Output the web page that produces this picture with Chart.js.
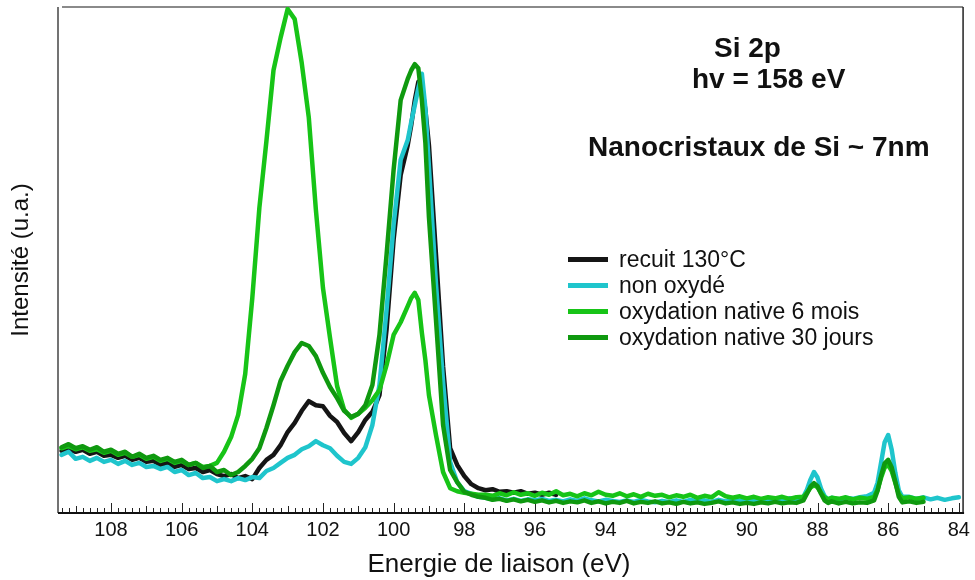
<!DOCTYPE html>
<html lang="fr">
<head>
<meta charset="UTF-8">
<title>Si 2p - Nanocristaux de Si</title>
<script src="https://cdn.jsdelivr.net/npm/chart.js"></script>
<style>
  body { margin: 0; background: #fff; font-family: "Liberation Sans", Arial, sans-serif; color: #111; }
  #wrap { position: relative; width: 975px; height: 580px; }
  #wrap canvas { position: absolute; left: 0; top: 0; }
  .note { position: absolute; font-weight: bold; font-size: 28px; line-height: 28px; white-space: nowrap; }
  .leg { position: absolute; left: 568px; height: 26px; padding-left: 51px; font-size: 23px; line-height: 26px; white-space: nowrap; }
  .leg span { position: absolute; left: 0; top: 11px; width: 40px; height: 5px; }
  #xtitle { position: absolute; left: 299px; width: 400px; top: 548px; text-align: center; font-size: 26px; line-height: 30px; }
</style>
</head>
<body>
<div id="wrap">
  <canvas id="spectre" width="975" height="580"></canvas>
  <div class="note" style="left:714px; top:34px;">Si 2p</div>
  <div class="note" style="left:692px; top:65px;">hv = 158 eV</div>
  <div class="note" style="left:588px; top:133px;">Nanocristaux de Si ~ 7nm</div>
  <div id="legend"></div>
  <div id="xtitle">Energie de liaison (eV)</div>
</div>
<script>
    // energy grid (eV), shared by every spectrum
    const energy = [
        109.4, 109.2, 109.0, 108.8, 108.6, 108.4, 108.2, 108.0, 107.8, 107.6,
        107.4, 107.2, 107.0, 106.8, 106.6, 106.4, 106.2, 106.0, 105.8, 105.6,
        105.4, 105.2, 105.0, 104.8, 104.6, 104.4, 104.2, 104.0, 103.8, 103.6,
        103.4, 103.2, 103.0, 102.8, 102.6, 102.4, 102.2, 102.0, 101.8, 101.6,
        101.4, 101.2, 101.0, 100.8, 100.6, 100.4, 100.2, 100.0, 99.8, 99.6,
        99.5, 99.4, 99.3, 99.2, 99.1, 99.0, 98.8, 98.6, 98.4, 98.2,
        98.0, 97.8, 97.6, 97.4, 97.2, 97.0, 96.8, 96.6, 96.4, 96.2,
        96.0, 95.8, 95.6, 95.4, 95.2, 95.0, 94.8, 94.6, 94.4, 94.2,
        94.0, 93.8, 93.6, 93.4, 93.2, 93.0, 92.8, 92.6, 92.4, 92.2,
        92.0, 91.8, 91.6, 91.4, 91.2, 91.0, 90.8, 90.6, 90.4, 90.2,
        90.0, 89.8, 89.6, 89.4, 89.2, 89.0, 88.8, 88.6, 88.4, 88.3,
        88.2, 88.1, 88.0, 87.9, 87.8, 87.7, 87.6, 87.4, 87.2, 87.0,
        86.8, 86.6, 86.4, 86.3, 86.2, 86.1, 86.0, 85.9, 85.8, 85.7,
        85.6, 85.4, 85.2, 85.0, 84.8, 84.6, 84.4, 84.2, 84.0
    ];

    const recuit = [
        12.3, 12.6, 12.1, 12.5, 11.7, 12.1, 11.3, 11.5, 10.9, 11.3,
        10.5, 10.9, 10.1, 10.3, 9.5, 9.9, 9.1, 9.5, 8.7, 8.9,
        8.1, 8.5, 7.7, 7.3, 7.7, 6.9, 7.3, 6.7, 8.9, 10.5,
        11.5, 13.4, 16.0, 17.8, 20.2, 22.1, 21.3, 21.1, 19.2, 18.0,
        15.8, 14.2, 16.0, 18.4, 20.0, 23.3, 36.2, 54.0, 66.8, 72.7,
        76.7, 81.6, 85.2, 84.4, 79.6, 72.7, 51.0, 29.0, 12.8, 9.5,
        7.3, 5.7, 4.9, 4.5, 4.7, 4.2, 4.3, 4.0, 4.3, 3.8,
        4.0, 3.6, 4.0, 3.6, null, null, null, null, null, null,
        null, null, null, null, null, null, null, null, null, null,
        null, null, null, null, null, null, null, null, null, null,
        null, null, null, null, null, null, null, null, null, null,
        null, null, null, null, null, null, null, null, null, null,
        null, null, null, null, null, null, null, null, null, null,
        null, null, null, null, null, null, null, null, null
    ];

    const nonOxyde = [
        11.5, 12.1, 10.7, 11.1, 10.3, 10.9, 10.1, 10.5, 9.7, 10.3,
        9.5, 9.9, 9.1, 9.3, 8.7, 9.1, 8.1, 8.5, 7.5, 7.9,
        6.9, 7.1, 6.3, 6.7, 6.3, 6.9, 6.5, 7.1, 6.9, 8.3,
        8.9, 9.9, 10.9, 11.5, 12.6, 13.2, 14.2, 13.4, 12.8, 11.3,
        10.1, 9.7, 10.9, 13.0, 17.4, 25.3, 40.1, 56.9, 69.8, 73.7,
        77.3, 80.6, 84.0, 86.8, 80.0, 68.4, 45.3, 25.9, 10.1, 6.1,
        4.3, 3.8, 3.2, 3.0, 2.7, 2.9, 2.5, 2.8, 2.4, 2.7,
        2.5, 2.8, 2.4, 2.6, 2.3, 2.7, 2.4, 2.9, 2.5, 2.3,
        2.6, 2.4, 2.2, 2.5, 2.2, 2.6, 2.3, 2.1, 2.4, 2.2,
        2.5, 2.2, 2.6, 2.3, 2.5, 2.2, 2.6, 2.3, 2.5, 2.4,
        2.6, 2.3, 2.7, 2.5, 2.8, 2.6, 2.9, 2.7, 3.2, 4.6,
        6.6, 8.1, 7.0, 4.8, 3.3, 2.7, 3.0, 2.7, 3.0, 2.8,
        3.1, 3.3, 4.0, 6.0, 10.0, 14.0, 15.4, 12.5, 8.0, 4.5,
        3.2, 3.2, 2.8, 3.1, 2.7, 3.0, 2.6, 2.9, 3.1
    ];

    const native6Mois = [
        12.8, 13.2, 12.6, 13.0, 12.3, 12.6, 11.9, 12.3, 11.5, 11.9,
        11.1, 11.5, 10.7, 11.1, 10.3, 10.7, 9.9, 10.3, 9.5, 9.9,
        9.1, 9.3, 9.9, 12.1, 15.0, 19.4, 27.5, 42.5, 60.3, 73.5,
        87.5, 93.9, 99.6, 97.6, 88.9, 78.1, 59.9, 44.5, 34.6, 25.1,
        20.4, 18.8, 19.6, 20.8, 22.3, 24.3, 29.2, 35.2, 37.7, 40.9,
        42.5, 43.5, 42.1, 35.6, 30.2, 23.3, 15.4, 8.1, 4.9, 4.3,
        4.0, 3.8, 3.6, 3.6, 3.4, 3.9, 3.5, 4.1, 3.6, 3.9,
        3.4, 4.0, 3.6, 4.3, 3.5, 3.8, 3.3, 3.9, 3.5, 4.2,
        3.6, 3.4, 3.9, 3.3, 3.7, 3.2, 3.8, 3.4, 3.6, 3.1,
        3.5, 3.2, 3.6, 3.0, 3.4, 3.1, 4.1, 3.3, 3.0, 3.3,
        2.9, 3.2, 2.8, 3.1, 2.9, 3.2, 2.8, 3.1, 3.2, 4.0,
        5.0, 5.5, 5.1, 4.0, 3.1, 2.7, 3.0, 2.8, 3.1, 2.7,
        3.0, 2.8, 3.2, 4.6, 7.0, 9.0, 9.5, 8.3, 6.0, 3.8,
        2.9, 3.1, 2.8, 3.0, null, null, null, null, null
    ];

    const native30Jours = [
        13.0, 13.6, 12.8, 13.2, 12.5, 13.0, 12.1, 12.5, 11.7, 12.1,
        11.1, 11.7, 10.9, 11.3, 10.5, 10.9, 10.1, 10.5, 9.5, 9.9,
        8.9, 9.3, 8.1, 8.5, 7.5, 8.1, 9.3, 10.7, 12.8, 16.8,
        21.3, 26.1, 29.1, 31.8, 33.6, 33.0, 31.0, 27.7, 24.9, 22.7,
        20.2, 19.0, 19.6, 21.3, 25.3, 35.2, 51.0, 67.8, 81.6, 85.8,
        87.5, 88.7, 87.9, 81.6, 73.1, 58.5, 38.1, 17.4, 8.5, 6.1,
        4.2, 3.6, 3.2, 3.0, 2.6, 2.8, 2.4, 2.7, 2.3, 2.6,
        2.2, 2.5, 2.1, 2.4, 2.0, 2.3, 2.1, 2.5, 2.0, 2.3,
        1.9, 2.2, 2.0, 2.4, 1.9, 2.2, 2.0, 2.3, 1.9, 2.1,
        1.8, 2.2, 1.9, 2.1, 1.8, 2.0, 2.3, 1.9, 2.1, 1.8,
        2.0, 1.8, 2.1, 1.9, 2.2, 1.9, 2.1, 2.0, 2.5, 3.8,
        5.2, 5.9, 5.3, 3.8, 2.5, 2.0, 2.3, 1.9, 2.2, 1.9,
        2.1, 2.0, 2.5, 4.4, 7.4, 9.8, 10.5, 9.0, 6.2, 3.2,
        2.1, 2.3, 2.0, 2.2, null, null, null, null, null
    ];

    const seriesNames = ['recuit 130°C', 'non oxydé', 'oxydation native 6 mois', 'oxydation native 30 jours'];
    const seriesColors = ['#151515', '#1fc5cc', '#17c417', '#0f990f'];
    const tickLabels = [108, 106, 104, 102, 100, 98, 96, 94, 92, 90, 88, 86, 84];

    const FONT = "'Liberation Sans', Arial, sans-serif";
    Chart.defaults.font.family = FONT;
    Chart.defaults.color = '#111';

    function points(values) {
        return energy.map((e, i) => ({ x: e, y: values[i] })).filter(p => p.y !== null);
    }

    // box around the plot + inward ticks every 0.2 eV on the energy axis
    const frame = {
        id: 'frame',
        beforeDatasetsDraw(chart) {
            const { ctx, chartArea: a, scales: { x } } = chart;
            ctx.save();
            ctx.strokeStyle = '#222';
            ctx.lineWidth = 1;
            ctx.beginPath();
            for (let k = 420; k <= 547; k++) {
                const px = Math.round(x.getPixelForValue(k / 5)) + 0.5;
                if (px < a.left + 2 || px > a.right - 1) continue;
                const len = k % 10 === 0 ? 10 : (k % 5 === 0 ? 7 : 5);
                ctx.moveTo(px, a.bottom);
                ctx.lineTo(px, a.bottom - len);
            }
            ctx.stroke();

            ctx.lineWidth = 2;
            ctx.strokeStyle = '#8a8a8a';
            ctx.beginPath();
            ctx.moveTo(a.left + 4, a.top);
            ctx.lineTo(a.right, a.top);
            ctx.stroke();

            ctx.strokeStyle = '#444';
            ctx.lineWidth = 1.5;
            ctx.beginPath();
            ctx.moveTo(a.left, a.top);
            ctx.lineTo(a.left, a.bottom);
            ctx.stroke();

            ctx.strokeStyle = '#222';
            ctx.beginPath();
            ctx.moveTo(a.right, a.top);
            ctx.lineTo(a.right, a.bottom);
            ctx.stroke();

            ctx.strokeStyle = '#111';
            ctx.lineWidth = 2;
            ctx.beginPath();
            ctx.moveTo(a.left, a.bottom);
            ctx.lineTo(a.right + 1, a.bottom);
            ctx.stroke();
            ctx.restore();
        }
    };

    const spectra = [recuit, nonOxyde, native6Mois, native30Jours];

    new Chart(document.getElementById('spectre'), {
        type: 'line',
        data: {
            datasets: spectra.map((vals, i) => ({
                label: seriesNames[i],
                data: points(vals),
                borderColor: seriesColors[i],
                order: 4 - i
            }))
        },
        options: {
            responsive: false,
            animation: false,
            layout: { padding: { top: 7, right: 9, left: 0, bottom: 0 } },
            elements: {
                point: { radius: 0 },
                line: { borderWidth: 4.5, tension: 0, borderJoinStyle: 'round', borderCapStyle: 'round' }
            },
            plugins: { legend: { display: false }, tooltip: { enabled: false } },
            scales: {
                x: {
                    type: 'linear',
                    reverse: true,
                    min: 83.88,
                    max: 109.5,
                    afterFit: s => { s.height = 67; },
                    afterBuildTicks: s => { s.ticks = tickLabels.map(v => ({ value: v })); },
                    grid: { display: false, drawTicks: false },
                    border: { display: false },
                    ticks: { color: '#111', font: { size: 20 }, padding: 5, maxRotation: 0, autoSkip: false }
                },
                y: {
                    min: 0,
                    max: 100,
                    afterFit: s => { s.width = 58; },
                    grid: { display: false },
                    border: { display: false },
                    ticks: { display: false },
                    title: {
                        display: true,
                        text: 'Intensité (u.a.)',
                        color: '#111',
                        font: { size: 24 },
                        padding: { top: 7, bottom: 0 }
                    }
                }
            }
        },
        plugins: [frame]
    });

    // legend rows inside the plot
    const legendRows = [259, 285, 311, 337];
    document.getElementById('legend').innerHTML = seriesNames.map((name, i) =>
        `<div class="leg" style="top:${legendRows[i] - 13}px;"><span style="background:${seriesColors[i]}"></span>${name}</div>`
    ).join('');
</script>
</body>
</html>
